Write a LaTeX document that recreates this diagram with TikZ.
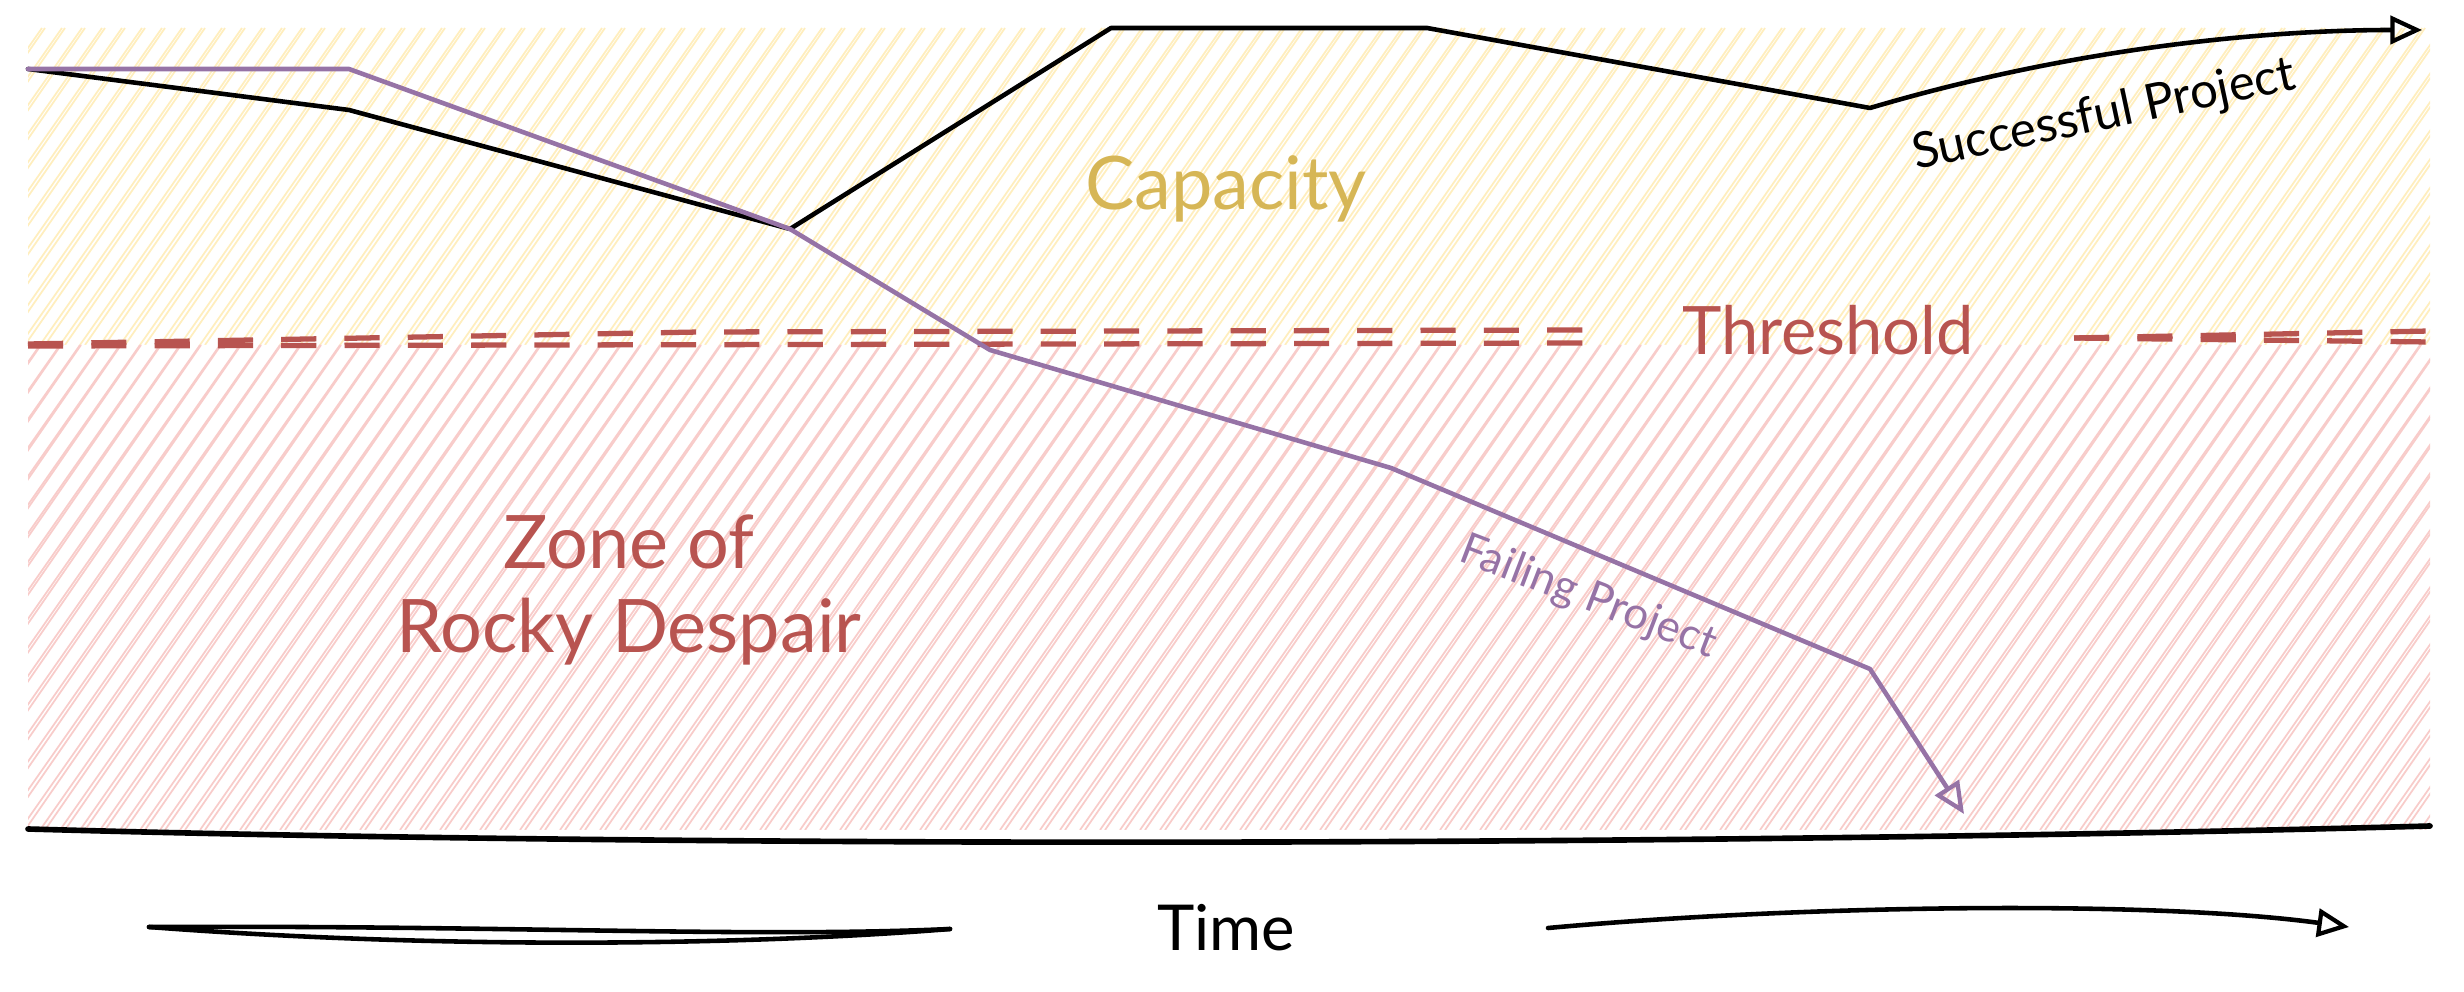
\documentclass[tikz,border=0pt]{standalone}
\usepackage{fontspec}
\setmainfont{Lato}
\usetikzlibrary{arrows.meta}
\definecolor{capgold}{RGB}{214,182,86}
\definecolor{threshred}{RGB}{184,84,80}
\definecolor{failpurple}{RGB}{150,115,166}
\definecolor{yellowhatch}{RGB}{255,238,190}
\definecolor{redhatch}{RGB}{248,204,202}

\begin{document}
\begin{tikzpicture}[x = 0.01cm, y = -0.01cm,
  hatchline/.style = {line width = 0.5pt},
  trend/.style = {line width = 1.3pt, line join = round, line cap = round},
  opentip/.style = {-{Triangle[open, length = 9pt, width = 8pt, line width = 1.2pt]}},
  thresh/.style = {threshred, line width = 1.5pt, dash pattern = on 10pt off 8pt}]
\useasboundingbox (0,0) rectangle (2464,992);
\begin{scope}
\clip (28,28) rectangle (2430,345);
\foreach \i in {-400,-380,...,2440} {
  \draw [hatchline, yellowhatch] (\i,345) -- ++(222,-317);
  \draw [hatchline, yellowhatch] (\i+5,345) -- ++(220,-317);
}
\end{scope}
\begin{scope}
\clip (28,345) rectangle (2430,830);
\foreach \i in {-400,-380,...,2440} {
  \draw [hatchline, redhatch] (\i,830) -- ++(340,-485);
  \draw [hatchline, redhatch] (\i+5,830) -- ++(336,-485);
}
\end{scope}
\draw [line width = 1.6pt, line cap = round] (28,829) .. controls (700,848) and (1700,846) .. (2430,826);
\draw [thresh] (28,346) -- (1587,343);
\draw [thresh] (28,344) -- (700,332) -- (1587,330);
\draw [thresh] (2074,338) -- (2430,342);
\draw [thresh] (2074,338) -- (2430,331);
\node [capgold, font = \fontsize{21}{25}\selectfont] (capacity) at (1226,189) {Capacity};
\node [threshred, font = \fontsize{19}{23}\selectfont] (threshold) at (1828,330) {Threshold};
\node [threshred, font = \fontsize{21}{24}\selectfont, align = center] (zone) at (629,590) {Zone of\\Rocky Despair};
\coordinate (s0) at (28,69);
\coordinate (s1) at (349,110);
\coordinate (s2) at (790,229);
\coordinate (s3) at (1111,28);
\coordinate (s4) at (1427,28);
\coordinate (s5) at (1870,108);
\coordinate (s6) at (2422,30);
\draw [trend, opentip] (s0) -- (s1) -- (s2) -- (s3) -- (s4) -- (s5) .. controls (2100,40) and (2300,30) .. (s6);
\node [font = \fontsize{14}{16}\selectfont, rotate = 12] (success) at (2104,116) {Successful Project};
\coordinate (f1) at (349,69);
\coordinate (f2) at (990,350);
\coordinate (f3) at (1391,468);
\coordinate (f4) at (1870,669);
\coordinate (f5) at (1964,814);
\draw [trend, failpurple, opentip] (s0) -- (f1) -- (s2) -- (f2) -- (f3) -- (f4) -- (f5);
\node [failpurple, font = \fontsize{12.5}{15}\selectfont, rotate = -21] (failing) at (1588,598) {Failing Project};
\node [font = \fontsize{18}{22}\selectfont] (time) at (1226,928) {Time};
\coordinate (t0) at (149,927);
\coordinate (t1) at (950,929);
\coordinate (t2) at (1548,928);
\coordinate (t3) at (2349,927);
\draw [trend] (t0) .. controls (500,925) and (750,938) .. (t1);
\draw [trend] (t0) .. controls (450,950) and (750,945) .. (t1);
\draw [trend, opentip] (t2) .. controls (1800,905) and (2150,900) .. (t3);
\end{tikzpicture}
\end{document}
